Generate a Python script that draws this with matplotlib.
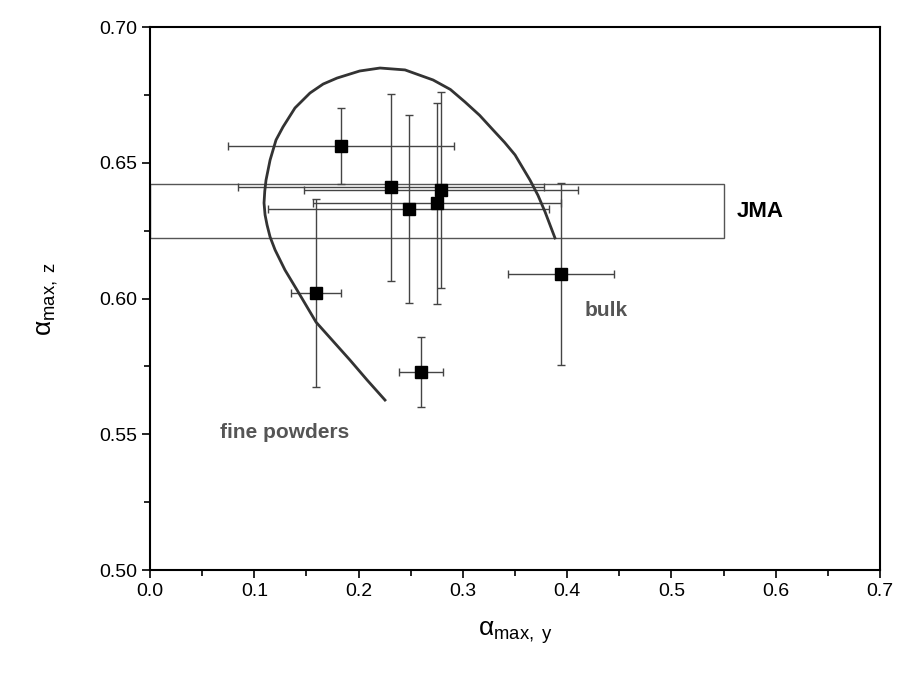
import numpy as np
import matplotlib.pyplot as plt
from matplotlib.patches import Rectangle
from matplotlib.ticker import MultipleLocator

plt.rcParams['font.family'] = ['Liberation Sans', 'DejaVu Sans']
plt.rcParams['mathtext.fontset'] = 'custom'
plt.rcParams['mathtext.rm'] = 'Liberation Sans'
plt.rcParams['mathtext.it'] = 'Liberation Sans:italic'

# measured points
alpha_y = [0.183, 0.231, 0.248, 0.279, 0.275, 0.159, 0.260, 0.394]
alpha_z = [0.656, 0.641, 0.633, 0.640, 0.635, 0.602, 0.573, 0.609]
err_y = [0.108, 0.147, 0.135, 0.131, 0.119, 0.024, 0.021, 0.051]
err_z = [0.014, 0.0345, 0.0345, 0.036, 0.037, 0.0345, 0.013, 0.0335]

curve_y = [0.2253, 0.2081, 0.1918, 0.1755, 0.1592, 0.1410, 0.1294, 0.1199, 0.1151,
           0.1122, 0.1103, 0.1093, 0.1100, 0.1112, 0.1151, 0.1208, 0.1275, 0.1390,
           0.1534, 0.1660, 0.1793, 0.2010, 0.2205, 0.2445, 0.2714, 0.2880, 0.3020,
           0.3160, 0.3289, 0.3400, 0.3500, 0.3644, 0.3720, 0.3788, 0.3883]
curve_z = [0.5626, 0.5700, 0.5773, 0.5843, 0.5913, 0.6031, 0.6105, 0.6179, 0.6227,
           0.6271, 0.6308, 0.6352, 0.6395, 0.6436, 0.6510, 0.6584, 0.6632, 0.6702,
           0.6757, 0.6790, 0.6812, 0.6838, 0.6849, 0.6842, 0.6805, 0.6770, 0.6724,
           0.6675, 0.6621, 0.6575, 0.6529, 0.6436, 0.6380, 0.6319, 0.6223]

# JMA band
jma_y = [0.0, 0.55]
jma_z = [0.6223, 0.6422]

fig = plt.figure(figsize=(8.99, 6.79), dpi=100)
ax = fig.add_axes([0.1669, 0.1605, 0.812, 0.7997])

ax.add_patch(Rectangle((jma_y[0], jma_z[0]), jma_y[1] - jma_y[0], jma_z[1] - jma_z[0],
                       fill=False, edgecolor='#555555', linewidth=1.0, zorder=2))

ax.errorbar(alpha_y, alpha_z, xerr=err_y, yerr=err_z, fmt='s', color='black',
            ecolor='#444444', elinewidth=1.0, capsize=3, capthick=1.0,
            markersize=8, zorder=3)

ax.plot(curve_y, curve_z, color='#333333', linewidth=2, zorder=4)

ax.text(0.563, 0.632, 'JMA', fontsize=16, fontweight='bold', color='black',
        va='center', ha='left')
ax.text(0.417, 0.5955, 'bulk', fontsize=15, fontweight='bold', color='#555555',
        va='center', ha='left')
ax.text(0.067, 0.5505, 'fine powders', fontsize=15, fontweight='bold', color='#555555',
        va='center', ha='left')

ax.set_xlim(0, 0.7)
ax.set_ylim(0.5, 0.7)
ax.xaxis.set_major_locator(MultipleLocator(0.1))
ax.xaxis.set_minor_locator(MultipleLocator(0.05))
ax.yaxis.set_major_locator(MultipleLocator(0.05))
ax.yaxis.set_minor_locator(MultipleLocator(0.025))
ax.xaxis.set_major_formatter(plt.FormatStrFormatter('%.1f'))
ax.yaxis.set_major_formatter(plt.FormatStrFormatter('%.2f'))
ax.tick_params(which='both', direction='out', top=False, right=False, labelsize=14,
               width=1.2)
ax.tick_params(which='major', length=6)
ax.tick_params(which='minor', length=4)
for s in ax.spines.values():
    s.set_linewidth(1.5)

ax.set_xlabel(r'$\mathrm{α}_{\mathrm{max,\ y}}$', fontsize=19, labelpad=14)
ax.set_ylabel(r'$\mathrm{α}_{\mathrm{max,\ z}}$', fontsize=19, labelpad=28)

plt.savefig('out.png', dpi=100)
